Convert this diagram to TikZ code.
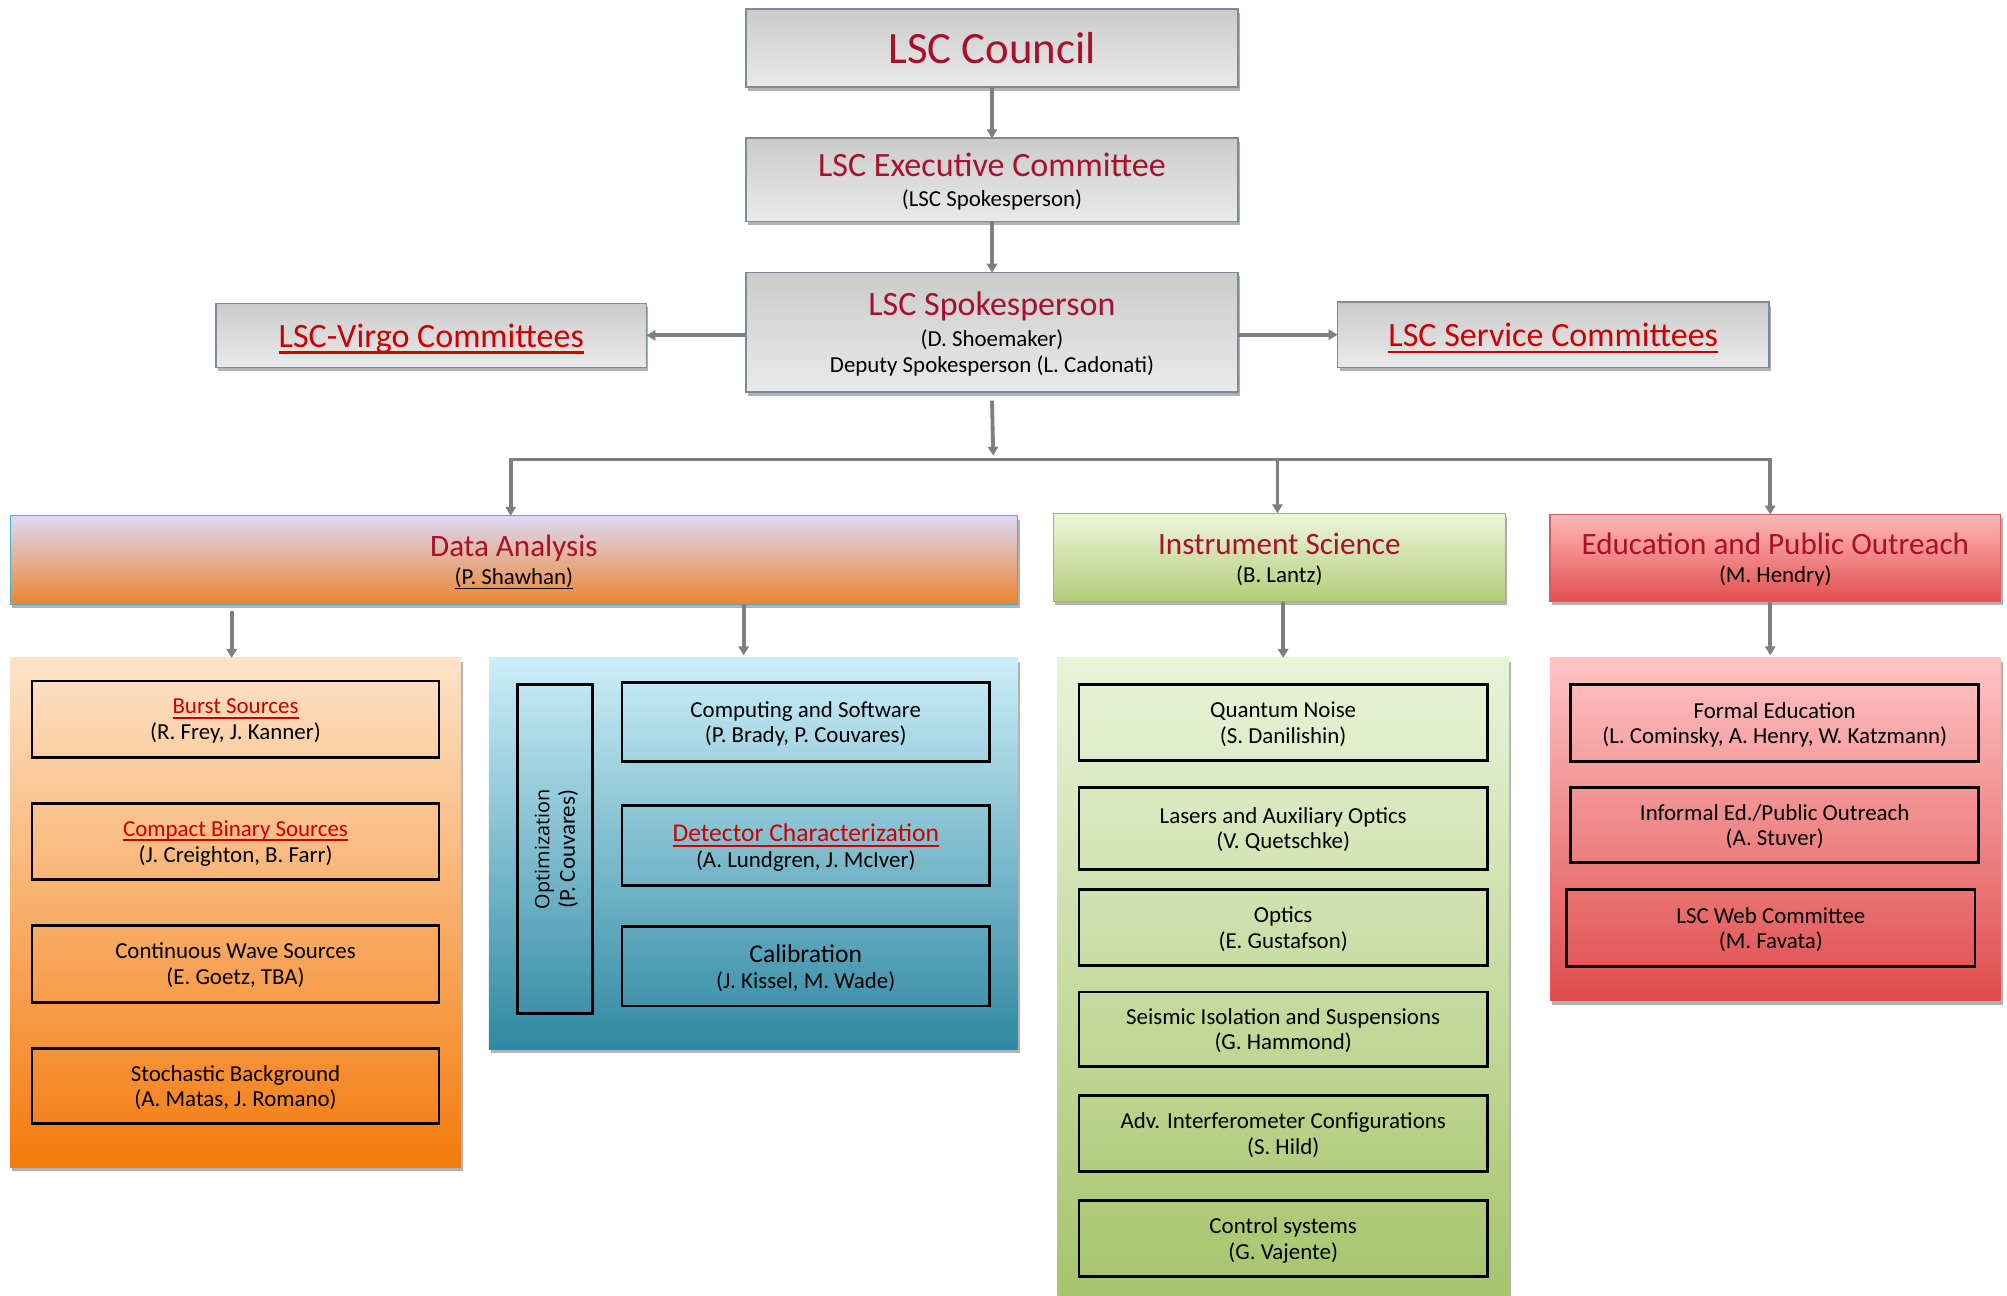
\documentclass[tikz,border=0pt]{standalone}
\usepackage{fontspec}
\setmainfont{Carlito}
\newfontfamily\optfont{Open Sans}
\usetikzlibrary{arrows.meta,shadows}
\definecolor{titlered}{HTML}{A8102C}
\definecolor{linkred}{HTML}{CC0000}
\definecolor{arrowgray}{HTML}{7F7F7F}
\definecolor{grayborder}{HTML}{7D8A98}
\definecolor{graytop}{HTML}{CBCBCB}
\definecolor{graybot}{HTML}{EAEAEA}
\definecolor{datop}{HTML}{DADAF4}
\definecolor{dabot}{HTML}{EE8530}
\definecolor{daborder}{HTML}{4BACC6}
\definecolor{istop}{HTML}{EEF5DC}
\definecolor{isbot}{HTML}{B3CD78}
\definecolor{isborder}{HTML}{9BBB59}
\definecolor{eptop}{HTML}{FFB8B8}
\definecolor{epbot}{HTML}{E24F4F}
\definecolor{epborder}{HTML}{D06060}
\definecolor{oltop}{HTML}{FDE3C8}
\definecolor{olbot}{HTML}{F47A0C}
\definecolor{bltop}{HTML}{CBEEF8}
\definecolor{blbot}{HTML}{2F88A2}
\definecolor{gctop}{HTML}{E9F3D8}
\definecolor{gcbot}{HTML}{A2C266}
\definecolor{rctop}{HTML}{FFC4C4}
\definecolor{rcbot}{HTML}{DF4C4C}
\newsavebox{\ulbox}
\newcommand{\myul}[1]{\sbox{\ulbox}{#1}\rlap{\rule[-0.2em]{\wd\ulbox}{0.08em}}\usebox{\ulbox}}
\newcommand{\lnk}[1]{\textcolor{linkred}{\myul{#1}}}
\newcommand{\ttl}[1]{\textcolor{titlered}{#1}}
\tikzset{
  every node/.style={font=\fontsize{17.9}{20}\selectfont, align=center, inner sep=0pt, outer sep=0pt, text depth=0pt},
  shadow/.style={drop shadow={shadow xshift=1.5pt, shadow yshift=-3pt, opacity=0.3, fill=black}},
  graybox/.style={draw=grayborder, line width=1.3pt, top color=graytop, bottom color=graybot, shadow},
  dabox/.style={draw=daborder, line width=1pt, top color=datop, bottom color=dabot, shadow},
  isbox/.style={draw=isborder, line width=1pt, top color=istop, bottom color=isbot, shadow},
  epbox/.style={draw=epborder, line width=1pt, top color=eptop, bottom color=epbot, shadow},
  olbox/.style={draw=none, top color=oltop, bottom color=olbot, shadow},
  blbox/.style={draw=none, top color=bltop, bottom color=blbot, shadow},
  gcbox/.style={draw=none, top color=gctop, bottom color=gcbot, shadow},
  rcbox/.style={draw=none, top color=rctop, bottom color=rcbot, shadow},
  unit/.style={draw=black, line width=2.2pt},
  line/.style={draw=arrowgray, line width=3pt},
  conn/.style={line, -{Triangle[length=7pt,width=8pt]}},
  both/.style={line, {Triangle[length=7pt,width=8pt]}-{Triangle[length=7pt,width=8pt]}},
}
\begin{document}
\begin{tikzpicture}[x=1pt,y=-1pt]
\useasboundingbox (0,0) rectangle (1568,1012);
% top level
\node[graybox, minimum width=384, minimum height=61] (council) at (775,37.5)
  {\fontsize{35}{40}\selectfont\ttl{LSC Council}};
\node[graybox, minimum width=384, minimum height=65, text depth=-8pt] (exec) at (775,140.5)
  {\fontsize{26.6}{30}\selectfont\ttl{LSC Executive Committee}\\[3pt] (LSC Spokesperson)};
\node[graybox, minimum width=384, minimum height=93] (spokes) at (775,259.5)
  {\fontsize{26.6}{30}\selectfont\ttl{LSC Spokesperson}\\[4pt] (D. Shoemaker)\\ Deputy Spokesperson (L. Cadonati)};
\node[graybox, minimum width=336, minimum height=50] (virgo) at (337,262)
  {\fontsize{26.6}{30}\selectfont\lnk{LSC-Virgo Committees}};
\node[graybox, minimum width=337, minimum height=51] (service) at (1213.5,261.5)
  {\fontsize{26.6}{30}\selectfont\lnk{LSC Service Committees}};
% second level
\node[dabox, minimum width=787, minimum height=69, text depth=-2pt] (da) at (401.5,437.5)
  {\fontsize{24.3}{28}\selectfont\ttl{Data Analysis}\\[2pt] \myul{(P. Shawhan)}};
\node[isbox, minimum width=353, minimum height=69, text depth=-2pt] (inst) at (999.5,435.5)
  {\fontsize{24.3}{28}\selectfont\ttl{Instrument Science}\\[2pt] (B. Lantz)};
\node[epbox, minimum width=352, minimum height=68, text depth=-2pt] (epo) at (1387,436)
  {\fontsize{24.3}{28}\selectfont\ttl{Education and Public Outreach}\\[2pt] (M. Hendry)};
% containers
\node[olbox, minimum width=352, minimum height=398] (dal) at (184,713) {};
\node[blbox, minimum width=413, minimum height=306] (dar) at (588.5,667) {};
\node[gcbox, minimum width=353, minimum height=526] (insc) at (1002.5,777) {};
\node[rcbox, minimum width=352, minimum height=268] (epoc) at (1387,648) {};
% data analysis groups
\node[unit, minimum width=318, minimum height=60] (burst) at (184,562)
  {\lnk{Burst Sources}\\ (R. Frey, J. Kanner)};
\node[unit, minimum width=318, minimum height=59] (cbc) at (184,657.5)
  {\lnk{Compact Binary Sources}\\ (J. Creighton, B. Farr)};
\node[unit, minimum width=318, minimum height=60] (cw) at (184,753)
  {Continuous Wave Sources\\ (E. Goetz, TBA)};
\node[unit, minimum width=318, minimum height=59] (stoch) at (184,848.5)
  {Stochastic Background\\ (A. Matas, J. Romano)};
\node[unit, rotate=90, minimum width=257, minimum height=59] (opt) at (433.5,663.5)
  {\optfont\fontsize{15.5}{21}\selectfont Optimization\\ (P. Couvares)};
\node[unit, minimum width=287, minimum height=62] (comp) at (629.5,564)
  {Computing and Software\\ (P. Brady, P. Couvares)};
\node[unit, minimum width=287, minimum height=63] (detchar) at (629.5,660.5)
  {{\fontsize{20}{24}\selectfont\lnk{Detector Characterization}}\\ (A. Lundgren, J. McIver)};
\node[unit, minimum width=287, minimum height=62] (calib) at (629.5,755)
  {{\fontsize{20}{24}\selectfont Calibration}\\ (J. Kissel, M. Wade)};
% instrument science groups
\node[unit, minimum width=319, minimum height=59] (qn) at (1002.5,564.5)
  {Quantum Noise\\ (S. Danilishin)};
\node[unit, minimum width=319, minimum height=64] (laser) at (1002.5,647)
  {Lasers and Auxiliary Optics\\ (V. Quetschke)};
\node[unit, minimum width=319, minimum height=59] (optics) at (1002.5,724.5)
  {Optics\\ (E. Gustafson)};
\node[unit, minimum width=319, minimum height=58] (seis) at (1002.5,804)
  {Seismic Isolation and Suspensions\\ (G. Hammond)};
\node[unit, minimum width=319, minimum height=59] (aic) at (1002.5,885.5)
  {Adv. Interferometer Configurations\\ (S. Hild)};
\node[unit, minimum width=319, minimum height=59] (ctrl) at (1002.5,967.5)
  {Control systems\\ (G. Vajente)};
% outreach groups
\node[unit, minimum width=319, minimum height=60] (formal) at (1386.5,565)
  {Formal Education\\ (L. Cominsky, A. Henry, W. Katzmann)};
\node[unit, minimum width=319, minimum height=59] (informal) at (1386.5,644.5)
  {Informal Ed./Public Outreach\\ (A. Stuver)};
\node[unit, minimum width=319, minimum height=60] (web) at (1383.5,725)
  {LSC Web Committee\\ (M. Favata)};
% connectors
\draw[conn] (council) -- (exec);
\draw[conn] (exec) -- (spokes);
\draw[conn] (spokes.west |- virgo.east) -- (virgo.east);
\draw[conn] (spokes.east |- service.west) -- (service.west);
\coordinate (bar) at (776,359);
\coordinate (dDA) at (399,359);
\coordinate (dIS) at (998,359);
\coordinate (dEP) at (1383,359);
\draw[conn] ([yshift=-7pt]spokes.south) -- ([yshift=3pt]bar);
\draw[both] (dDA |- da.north) -- (dDA) -- (dEP) -- (dEP |- epo.north);
\draw[conn] (dIS) -- (dIS |- inst.north);
\draw[conn] ([xshift=-3pt,yshift=-5pt]da.south -| dal.north) -- ([xshift=-3pt]dal.north);
\draw[conn] ([xshift=-7.5pt]dar.north |- da.south) -- ([xshift=-7.5pt,yshift=2pt]dar.north);
\draw[conn] (inst.south -| insc.north) -- (insc.north);
\draw[conn] ([xshift=-4pt]epo.south) -- ([xshift=-4pt,yshift=2pt]epoc.north);
\end{tikzpicture}
\end{document}
